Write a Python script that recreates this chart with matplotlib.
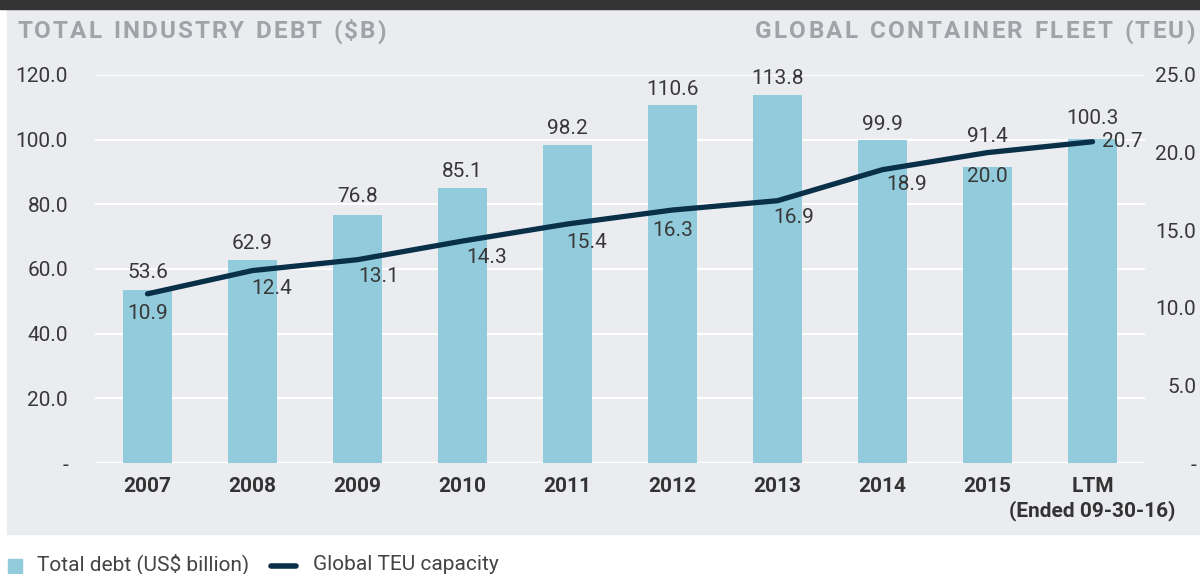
import matplotlib
matplotlib.use("Agg")
import matplotlib.pyplot as plt
from matplotlib.patches import Rectangle
from matplotlib.lines import Line2D
from matplotlib.font_manager import FontProperties

plt.rcParams['font.family'] = ['Roboto', 'DejaVu Sans']

# data
years = ["2007", "2008", "2009", "2010", "2011", "2012", "2013", "2014", "2015",
         "LTM\n(Ended 09-30-16)"]
debt = [53.6, 62.9, 76.8, 85.1, 98.2, 110.6, 113.8, 99.9, 91.4, 100.3]
teu = [10.9, 12.4, 13.1, 14.3, 15.4, 16.3, 16.9, 18.9, 20.0, 20.7]
left_ticks = [0, 20, 40, 60, 80, 100, 120]
right_ticks = [0, 5, 10, 15, 20, 25]

# label offsets in pixels (dx, dy)
bar_lbl_dy = [17, 16, 18, 16, 16.5, 15.5, 17, 15, 31, 20]
line_lbl_off = [(0, -20), (19, -18), (21, -17), (24, -16), (19, -19),
                (0, -20), (16, -17), (24, -15), (0, -24), (30, 0)]

W, H = 1200, 574
BG = '#ebecf0'
BAR = '#92cbdc'
LINE = '#0a3049'
TXT = '#383838'
TITLE = '#a0a4a8'

fig = plt.figure(figsize=(W / 100, H / 100), dpi=100)
fig.patch.set_facecolor('white')

# background panel + dark band
fig.patches.append(Rectangle((7 / W, (H - 534) / H), 1 - 7 / W, (534 - 9) / H,
                             transform=fig.transFigure, color=BG, zorder=-10))
fig.patches.append(Rectangle((0, (H - 9) / H), 1, 9 / H,
                             transform=fig.transFigure, color='#333333', zorder=-10))

ax = fig.add_axes([95 / W, (H - 463) / H, 1050 / W, 388 / H])
ax.patch.set_visible(False)
ax2 = ax.twinx()
ax2.patch.set_visible(False)

x = list(range(len(years)))
ax.bar(x, debt, width=0.476, color=BAR, zorder=2)
ax2.plot(x, teu, color=LINE, lw=3.8, solid_capstyle='round',
         solid_joinstyle='round', zorder=3)

ax.set_xlim(-0.5, 9.5)
ax.set_ylim(0, 120)
ax2.set_ylim(0, 25)

for a in (ax, ax2):
    for s in a.spines.values():
        s.set_visible(False)

ax.set_yticks(left_ticks)
ax.set_yticklabels(['-' if t == 0 else f"{t:.1f}" for t in left_ticks])
ax2.set_yticks(right_ticks)
ax2.set_yticklabels(['-' if t == 0 else f"{t:.1f}" for t in right_ticks])

ax.tick_params(axis='y', length=0, pad=27 * 0.72, labelsize=15, labelcolor=TXT)
ax2.tick_params(axis='y', length=0, pad=51 * 0.72, labelsize=15, labelcolor=TXT)
for lbl in ax2.get_yticklabels():
    lbl.set_ha('right')

ax.set_xticks(x)
ax.set_xticklabels(years, fontweight='bold', fontsize=15, color='#333333',
                   linespacing=1.3)
ax.tick_params(axis='x', length=0, pad=10)

ax.grid(axis='y', color='white', lw=1.5, zorder=0)
ax.set_axisbelow(True)
ax.axhline(0, color='white', lw=2.5, zorder=1)

px = 0.72
for i, v in enumerate(debt):
    ax.annotate(f"{v:.1f}", (i, v), xytext=(0, bar_lbl_dy[i] * px),
                textcoords='offset points', ha='center', va='center',
                fontsize=15, color=TXT, zorder=4)
for i, v in enumerate(teu):
    dx, dy = line_lbl_off[i]
    ax2.annotate(f"{v:.1f}", (i, v), xytext=(dx * px, dy * px),
                 textcoords='offset points', ha='center', va='center',
                 fontsize=15, color=TXT, zorder=4)


def tracked(text, x0, x1, yc, size):
    # spread bold caps evenly between x0 and x1 (letter-spaced heading)
    fp = FontProperties(family='Roboto', weight='bold', size=size)
    r = fig.canvas.get_renderer()
    widths = []
    for ch in text:
        if ch == ' ':
            widths.append(size * 100 / 72 * 0.3)
        else:
            w, h, d = r.get_text_width_height_descent(ch, fp, ismath=False)
            widths.append(w)
    gap = ((x1 - x0) - sum(widths)) / (len(text) - 1)
    cx = x0
    for ch, w in zip(text, widths):
        if ch != ' ':
            fig.text(cx / W, (H - yc) / H, ch, fontproperties=fp, color=TITLE,
                     ha='left', va='center')
        cx += w + gap


tracked("TOTAL INDUSTRY DEBT ($B)", 17, 386, 31.5, 17.5)
tracked("GLOBAL CONTAINER FLEET (TEU)", 755, 1195, 31.5, 17.5)

# legend
fig.patches.append(Rectangle((8 / W, (H - 573) / H), 14 / W, 14 / H,
                             transform=fig.transFigure, color=BAR))
fig.lines.append(Line2D([271 / W, 296 / W], [(H - 566) / H] * 2,
                        transform=fig.transFigure, color=LINE, lw=4,
                        solid_capstyle='round'))
fig.text(37 / W, (H - 564) / H, "Total debt (US$ billion)", fontsize=15,
         color='#444444', ha='left', va='center')
fig.text(313 / W, (H - 564) / H, "Global TEU capacity", fontsize=15,
         color='#444444', ha='left', va='center')

fig.savefig("out.png", dpi=100, facecolor=fig.get_facecolor())
